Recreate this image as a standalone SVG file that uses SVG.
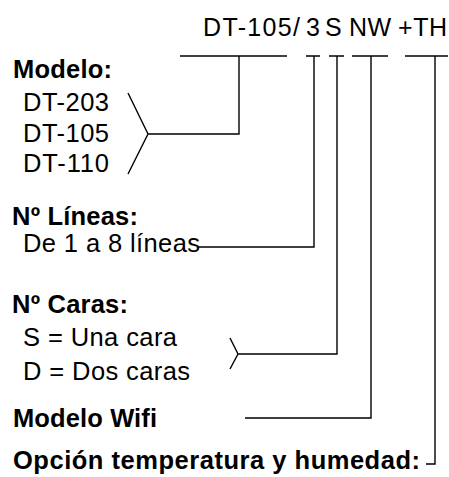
<svg xmlns="http://www.w3.org/2000/svg" width="449" height="477" viewBox="0 0 449 477">
<style>
text{font-family:"Liberation Sans",Arial,sans-serif;fill:#000}
.t{font-size:25px}
.h{font-size:25.5px;font-weight:bold}
.r{font-size:25.5px}
.c{fill:none;stroke:#000;stroke-width:1.4;stroke-linejoin:miter}
</style>
<rect width="449" height="477" fill="#fff"/>
<g id="title">
<text class="t" x="203" y="36" textLength="97" lengthAdjust="spacing">DT-105/</text>
<text class="t" x="306" y="36">3</text>
<text class="t" x="325" y="36">S</text>
<text class="t" x="349" y="36" textLength="42" lengthAdjust="spacing">NW</text>
<text class="t" x="398" y="36" textLength="49" lengthAdjust="spacing">+TH</text>
</g>
<g id="modelo">
<text class="h" x="13" y="78" textLength="99" lengthAdjust="spacing">Modelo:</text>
<text class="r" x="23" y="111" textLength="86" lengthAdjust="spacing">DT-203</text>
<text class="r" x="23" y="142" textLength="86" lengthAdjust="spacing">DT-105</text>
<text class="r" x="23" y="172" textLength="86" lengthAdjust="spacing">DT-110</text>
</g>
<g id="lineas">
<text class="h" x="12" y="225" textLength="126" lengthAdjust="spacing">Nº Líneas:</text>
<text class="r" x="23" y="252" textLength="177" lengthAdjust="spacing">De 1 a 8 líneas</text>
</g>
<g id="caras">
<text class="h" x="12" y="313" textLength="116" lengthAdjust="spacing">Nº Caras:</text>
<text class="r" x="23" y="346" textLength="154" lengthAdjust="spacing">S = Una cara</text>
<text class="r" x="23" y="380" textLength="167" lengthAdjust="spacing">D = Dos caras</text>
</g>
<g id="wifi">
<text class="h" x="13" y="427" textLength="144" lengthAdjust="spacing">Modelo Wifi</text>
</g>
<g id="th">
<text class="h" x="13" y="469" textLength="407" lengthAdjust="spacing">Opción temperatura y humedad:</text>
</g>
<g id="connectors">
<path class="c" d="M180,56H287M239,56V134H148M128,93L148,134L128,174"/>
<path class="c" d="M306,56H320M314,56V247H198"/>
<path class="c" d="M329,56H344M337,56V354H238M230,338L238,354L230,369"/>
<path class="c" d="M352,56H388M371,56V418H245"/>
<path class="c" d="M405,56H448M435,56V464H426"/>
</g>
</svg>
